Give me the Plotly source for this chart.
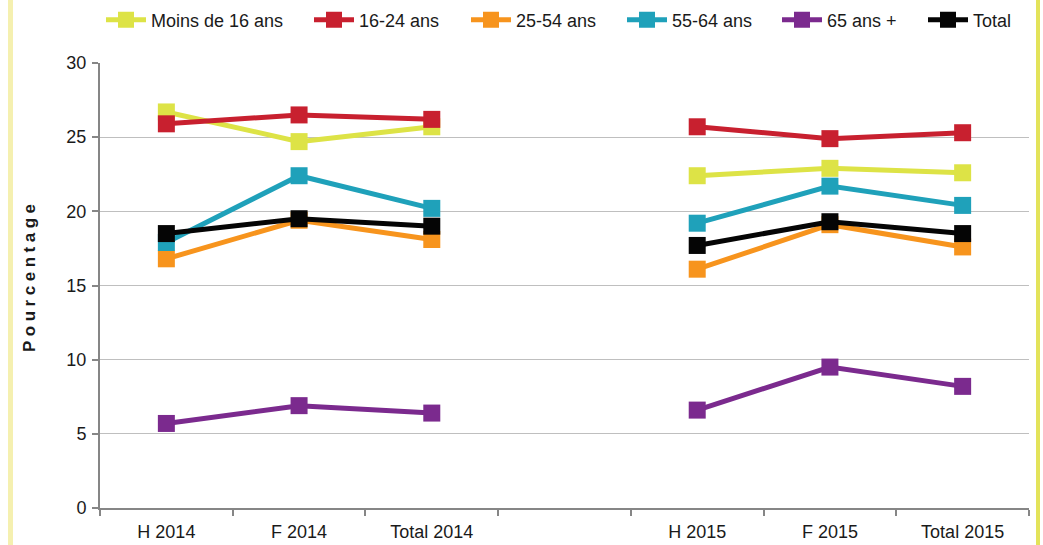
import plotly.graph_objects as go

categories = ["H 2014", "F 2014", "Total 2014", " ", "H 2015", "F 2015", "Total 2015"]
series_names = ["Moins de 16 ans", "16-24 ans", "25-54 ans", "55-64 ans", "65 ans +", "Total"]
moins16 = [26.7, 24.7, 25.7, None, 22.4, 22.9, 22.6]
a16_24 = [25.9, 26.5, 26.2, None, 25.7, 24.9, 25.3]
a25_54 = [16.8, 19.4, 18.1, None, 16.1, 19.1, 17.6]
a55_64 = [17.9, 22.4, 20.2, None, 19.2, 21.7, 20.4]
a65p = [5.7, 6.9, 6.4, None, 6.6, 9.5, 8.2]
total = [18.5, 19.5, 19.0, None, 17.7, 19.3, 18.5]
colors = ["#dde346", "#c8202f", "#f7941d", "#1fa1ba", "#7b2a8e", "#050505"]
y_ticks = [0, 5, 10, 15, 20, 25, 30]

L, R, T, B = 100, 14, 63, 37
W, H = 1043, 545
PW = W - L - R

legend_starts = [107, 315, 472, 628, 783, 929]  # pixel positions of legend entries

fig = go.Figure()
all_vals = [moins16, a16_24, a25_54, a55_64, a65p, total]
layout_legends = {}
for i in range(6):
    lname = "legend" if i == 0 else f"legend{i + 1}"
    fig.add_trace(go.Scatter(
        x=categories, y=all_vals[i], name=series_names[i], mode="lines+markers",
        line=dict(color=colors[i], width=5),
        marker=dict(symbol="square", size=17, color=colors[i]),
        connectgaps=False, legend=lname,
    ))
    layout_legends[lname] = dict(
        orientation="h", x=(legend_starts[i] - L - 6) / PW, xanchor="left",
        yref="container", y=1 - 20 / H, yanchor="middle",
        font=dict(size=18), itemwidth=40, bgcolor="rgba(0,0,0,0)",
    )

fig.update_layout(
    width=W, height=H,
    margin=dict(l=L, r=R, t=T, b=B, autoexpand=False),
    paper_bgcolor="white", plot_bgcolor="white",
    font=dict(family="Liberation Sans, Arial, sans-serif", size=18, color="#1a1a1a"),
    showlegend=True,
    xaxis=dict(type="category", categoryorder="array", categoryarray=categories,
               showline=True, linecolor="#868686", linewidth=2,
               ticks="outside", ticklen=6, tickcolor="#868686", tickwidth=2,
               tickson="boundaries", showgrid=False, range=[-0.5, 6.5],
               tickfont=dict(size=18), ticklabelstandoff=6),
    yaxis=dict(range=[0, 30], tickvals=y_ticks, showline=True, linecolor="#868686", linewidth=2,
               ticks="outside", ticklen=6, tickcolor="#868686", tickwidth=2,
               showgrid=True, gridcolor="#bfbfbf", gridwidth=1, zeroline=False,
               tickfont=dict(size=18), ticklabelstandoff=2),
    **layout_legends,
)
fig.add_annotation(xref="paper", yref="paper", x=(29 - L) / PW, y=(508 - 276) / 445,
                   text='<b><span style="letter-spacing:4.5px">Pourcentage</span></b>',
                   textangle=-90, showarrow=False, font=dict(size=17, color="#1a1a1a"),
                   xanchor="center", yanchor="middle")
# decorative frame
fig.add_shape(type="rect", xref="paper", yref="paper", x0=(8 - L) / PW, x1=(13 - L) / PW,
              y0=-0.1, y1=1.15, fillcolor="#f5f0b0", line=dict(width=0), layer="below")
fig.add_shape(type="rect", xref="paper", yref="paper", x0=(1036 - L) / PW, x1=(1040 - L) / PW,
              y0=-0.1, y1=1.15, fillcolor="#e3e35a", line=dict(width=0), layer="below")
fig.write_html("out.html", config={"displayModeBar": False})

# remove the browser's default page margin so the figure sits at the window origin
with open("out.html", "r", encoding="utf-8") as f:
    html = f.read()
html = html.replace("<head>", "<head><style>html,body{margin:0;padding:0;overflow:hidden}</style>", 1)
with open("out.html", "w", encoding="utf-8") as f:
    f.write(html)
